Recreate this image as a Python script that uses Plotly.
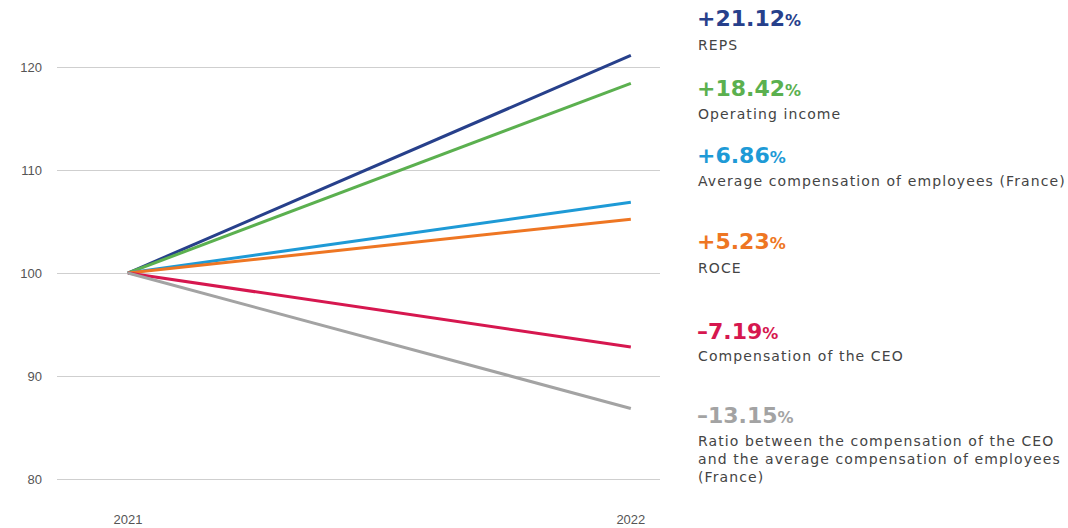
import plotly.graph_objects as go

# Index base 100 in 2021, value in 2022
years = [2021, 2022]
series_names = [
    "REPS",
    "Operating income",
    "Average compensation of employees (France)",
    "ROCE",
    "Compensation of the CEO",
    "Ratio between the compensation of the CEO<br>and the average compensation of employees<br>(France)",
]
changes_pct = [21.12, 18.42, 6.86, 5.23, -7.19, -13.15]
colors = ["#27408b", "#5bb04f", "#1e9ad6", "#ee7623", "#d6174f", "#a3a3a3"]
y_ticks = [80, 90, 100, 110, 120]

W, H = 1068, 528
M_L, M_R, M_T, M_B = 57, 408, 15, 18

fig = go.Figure()
for name, pct, col in zip(series_names, changes_pct, colors):
    fig.add_trace(go.Scatter(
        x=years, y=[100, 100 + pct], mode="lines",
        line=dict(color=col, width=3), name=name, showlegend=False,
        hoverinfo="skip",
    ))

def py(pix):
    """Vertical pixel position to paper coordinate."""
    return (H - M_B - pix) / (H - M_T - M_B)

def px(pix):
    return (pix - M_L) / (W - M_L - M_R)

SPACED = "<span style='letter-spacing:1.1px'>"

# Right-hand labels: value heading + description
value_y = [18, 89, 156, 241, 331, 415]
desc_y = [45, 114, 181, 268, 356, 459]
for name, pct, col, vy, dy in zip(series_names, changes_pct, colors, value_y, desc_y):
    sign = "+" if pct >= 0 else "–"
    fig.add_annotation(
        x=px(695), y=py(vy), xref="paper", yref="paper",
        xanchor="left", yanchor="middle", showarrow=False,
        text=f"<b>{sign}{abs(pct):.2f}</b><span style='font-size:16px'><b>%</b></span>",
        font=dict(family="DejaVu Sans", size=22, color=col),
    )
    fig.add_annotation(
        x=px(696), y=py(dy), xref="paper", yref="paper",
        xanchor="left", yanchor="middle", align="left", showarrow=False,
        text=SPACED + name.replace("<br>", "</span><br>" + SPACED) + "</span>",
        font=dict(family="DejaVu Sans", size=14, color="#444444"),
    )

fig.update_layout(
    width=W, height=H,
    margin=dict(l=M_L, r=M_R, t=M_T, b=M_B, autoexpand=False),
    paper_bgcolor="white", plot_bgcolor="white",
    xaxis=dict(
        range=[2020.859, 2022.058], tickvals=years, ticktext=[str(y) for y in years],
        showgrid=False, zeroline=False, showline=False, ticklabelstandoff=0,
        automargin=False,
        tickfont=dict(family="Liberation Sans", size=13, color="#555555"),
    ),
    yaxis=dict(
        range=[76.99, 125.05], tickvals=y_ticks,
        showgrid=True, gridcolor="#cfcfcf", gridwidth=1,
        zeroline=False, showline=False, ticklabelstandoff=14, automargin=False,
        tickfont=dict(family="Liberation Sans", size=13, color="#555555"),
    ),
)

fig.write_html("out.html")
